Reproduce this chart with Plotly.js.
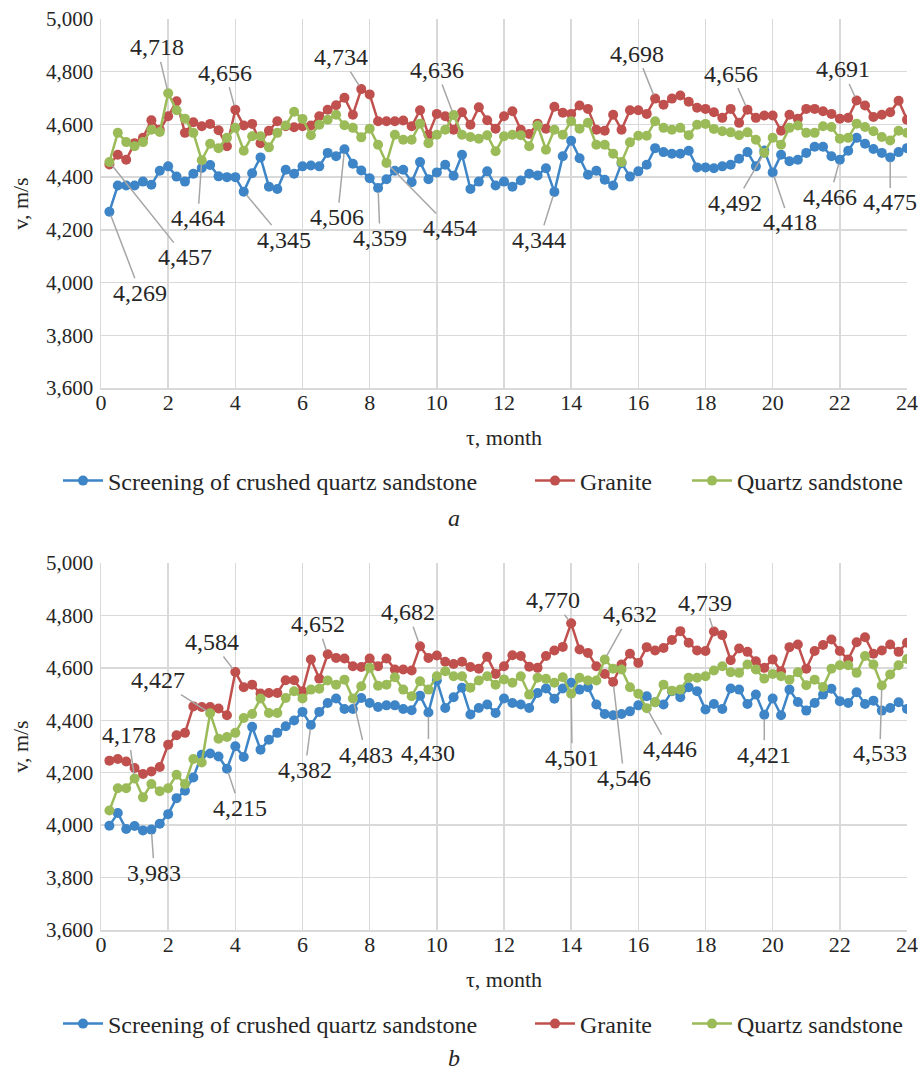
<!DOCTYPE html>
<html>
<head>
<meta charset="utf-8">
<script src="https://cdn.plot.ly/plotly-3.0.1.min.js"></script>
<style>html,body{margin:0;padding:0;background:#fff;}#chart{width:924px;height:1083px;}</style>
</head>
<body>
<div id="chart"></div>
<script>
// ---- Data (x in months) ----
const months = [0.25,0.5,0.75,1,1.25,1.5,1.75,2,2.25,2.5,2.75,3,3.25,3.5,3.75,4,4.25,4.5,4.75,5,5.25,5.5,5.75,6,
6.25,6.5,6.75,7,7.25,7.5,7.75,8,8.25,8.5,8.75,9,9.25,9.5,9.75,10,10.25,10.5,10.75,11,11.25,11.5,11.75,12,
12.25,12.5,12.75,13,13.25,13.5,13.75,14,14.25,14.5,14.75,15,15.25,15.5,15.75,16,16.25,16.5,16.75,17,17.25,17.5,17.75,18,
18.25,18.5,18.75,19,19.25,19.5,19.75,20,20.25,20.5,20.75,21,21.25,21.5,21.75,22,22.25,22.5,22.75,23,23.25,23.5,23.75,24];

const seriesNames = ["Screening of crushed quartz sandstone", "Granite", "Quartz sandstone"];

// Panel a
const aScreening = [4269,4368,4368,4368,4383,4371,4424,4441,4402,4383,4413,4435,4446,4403,4400,4400,4345,4415,4475,4364,4355,4428,4413,4441,
4444,4441,4492,4479,4506,4451,4425,4396,4359,4392,4424,4428,4381,4457,4392,4418,4447,4405,4485,4355,4383,4422,4368,4383,
4364,4387,4413,4406,4434,4344,4479,4538,4472,4409,4424,4390,4368,4453,4402,4422,4447,4510,4495,4489,4489,4500,4437,4437,
4434,4441,4447,4470,4495,4441,4501,4418,4485,4460,4466,4492,4515,4515,4479,4466,4500,4549,4527,4507,4492,4475,4495,4510];
const aGranite = [4448,4485,4466,4529,4549,4616,4580,4631,4688,4568,4608,4593,4602,4578,4517,4656,4596,4602,4529,4576,4612,4593,4589,4593,
4596,4631,4656,4673,4701,4637,4734,4714,4612,4612,4612,4615,4593,4654,4561,4640,4631,4580,4646,4599,4665,4616,4584,4631,
4650,4580,4564,4603,4584,4667,4644,4640,4672,4659,4580,4576,4637,4580,4654,4654,4640,4698,4675,4698,4710,4686,4663,4659,
4646,4625,4659,4606,4656,4625,4634,4634,4576,4637,4622,4659,4659,4650,4640,4622,4625,4691,4672,4628,4637,4646,4690,4618];
const aQuartz = [4457,4568,4533,4517,4533,4580,4571,4718,4654,4622,4568,4464,4527,4510,4549,4587,4500,4555,4555,4513,4568,4596,4648,4621,
4559,4599,4618,4637,4597,4587,4551,4584,4523,4454,4561,4542,4542,4603,4529,4561,4580,4636,4561,4552,4546,4559,4498,4555,
4561,4559,4517,4596,4504,4580,4561,4612,4584,4606,4523,4523,4489,4457,4532,4557,4557,4612,4587,4580,4587,4559,4599,4602,
4583,4574,4570,4559,4570,4542,4492,4549,4523,4587,4596,4568,4568,4593,4590,4546,4549,4603,4590,4574,4552,4539,4576,4568];

// Panel b
const bScreening = [3998,4046,3985,3997,3980,3983,4005,4042,4103,4131,4182,4269,4273,4262,4215,4301,4260,4375,4288,4326,4352,4377,4399,4432,
4382,4432,4466,4483,4443,4443,4485,4466,4451,4457,4457,4443,4438,4494,4430,4552,4447,4488,4524,4422,4447,4460,4428,4483,
4466,4460,4447,4504,4521,4482,4521,4543,4517,4526,4460,4424,4419,4424,4434,4457,4492,4469,4460,4511,4488,4526,4511,4441,
4462,4443,4521,4517,4462,4498,4421,4483,4419,4517,4470,4437,4466,4498,4520,4473,4466,4507,4462,4475,4437,4447,4469,4443];
const bGranite = [4246,4252,4243,4218,4195,4205,4222,4307,4343,4352,4453,4451,4451,4445,4419,4584,4526,4536,4502,4504,4504,4553,4553,4511,
4632,4559,4652,4638,4636,4606,4603,4636,4606,4636,4594,4594,4590,4682,4638,4647,4623,4615,4623,4603,4597,4642,4577,4606,
4648,4645,4604,4600,4645,4666,4680,4770,4670,4657,4606,4577,4546,4613,4654,4619,4679,4666,4676,4706,4740,4696,4666,4664,
4739,4725,4629,4674,4661,4625,4600,4632,4587,4679,4689,4597,4664,4687,4708,4664,4632,4698,4717,4654,4666,4689,4661,4696];
const bQuartz = [4056,4141,4141,4178,4106,4157,4129,4141,4192,4157,4252,4239,4427,4330,4336,4352,4409,4424,4483,4428,4428,4485,4511,4483,
4517,4520,4552,4536,4555,4483,4530,4600,4532,4536,4564,4517,4492,4549,4517,4568,4587,4568,4568,4524,4552,4568,4536,4556,
4543,4568,4498,4562,4558,4543,4564,4501,4562,4552,4552,4632,4597,4594,4526,4501,4446,4469,4536,4513,4517,4562,4562,4568,
4590,4606,4583,4581,4613,4594,4559,4577,4568,4555,4583,4534,4555,4527,4597,4610,4610,4581,4645,4613,4533,4575,4610,4634];

// Labelled points: [month, offsetX px, offsetY px]
const aScreeningLabels = [[0.25,31,81],[4.25,40,48],[7.25,-7,68],[8.25,2,50],[13.5,-15,48],[20,17,50],[22,-10,37],[23.5,0,45]];
const aGraniteLabels   = [[4,-10,-37],[7.75,-20,-32],[16.5,-18,-45],[19.25,-16,-36],[22.5,-14,-31]];
const aQuartzLabels    = [[0.25,76,95],[2,-11,-46],[3,-4,58],[8.5,64,65],[10.5,-17,-45],[19.75,-29,50]];
const bScreeningLabels = [[1.5,3,43],[3.75,13,39],[6.25,-6,45],[9.75,0,41],[19.75,0,40]];
const bGraniteLabels   = [[4,-23,-30],[6.75,-10,-30],[9.5,-12,-34],[14,-18,-23],[15.25,11,96],[18.25,-9,-28]];
const bQuartzLabels    = [[1,-6,-43],[3.25,-52,-33],[7.5,13,56],[14,1,64],[15,25,-45],[16.25,23,41],[23.25,-2,68]];

// ---- Styling ----
const colors = ["#3D85C6", "#C0504D", "#9BBB59"];
const FONT = "Liberation Serif";
const TXT = "#262626";

function mk(y, i, xa, ya, legendId) {
  return {
    x: months, y: y, type: "scatter", mode: "lines+markers",
    name: seriesNames[i], xaxis: xa, yaxis: ya, legend: legendId,
    line: {color: colors[i], width: 2.5},
    marker: {color: colors[i], size: 10}
  };
}

const data = [
  mk(aScreening, 0, "x", "y", "legend"),
  mk(aGranite, 1, "x", "y", "legend2"),
  mk(aQuartz, 2, "x", "y", "legend3"),
  mk(bScreening, 0, "x2", "y2", "legend4"),
  mk(bGranite, 1, "x2", "y2", "legend5"),
  mk(bQuartz, 2, "x2", "y2", "legend6")
];

const annotations = [];
function addLabels(list, series, xr, yr) {
  list.forEach(function (l) {
    const idx = months.indexOf(l[0]);
    const v = series[idx];
    annotations.push({
      x: months[idx], y: v, xref: xr, yref: yr,
      text: v.toLocaleString("en-US"),
      showarrow: true, arrowhead: 0, arrowwidth: 1.5, arrowcolor: "#A6A6A6",
      standoff: 4, ax: l[1], ay: l[2],
      font: {family: FONT, size: 24, color: TXT}
    });
  });
}
addLabels(aScreeningLabels, aScreening, "x", "y");
addLabels(aGraniteLabels, aGranite, "x", "y");
addLabels(aQuartzLabels, aQuartz, "x", "y");
addLabels(bScreeningLabels, bScreening, "x2", "y2");
addLabels(bGraniteLabels, bGranite, "x2", "y2");
addLabels(bQuartzLabels, bQuartz, "x2", "y2");

annotations.push({text: "<i>a</i>", xref: "paper", yref: "paper", x: 0.438, y: (930 - 518) / 911, showarrow: false,
  font: {family: FONT, size: 24, color: TXT}});
annotations.push({text: "<i>b</i>", xref: "paper", yref: "paper", x: 0.438, y: (930 - 1073) / 911, showarrow: false,
  font: {family: FONT, size: 24, color: TXT}});

function xAxis(anchor) {
  return {
    anchor: anchor, range: [0, 24], dtick: 2, tick0: 0,
    showgrid: true, gridcolor: "#D9D9D9", gridwidth: 1.5,
    showline: true, linecolor: "#D9D9D9", linewidth: 1.5, zeroline: false,
    ticks: "", ticklabelstandoff: -6, tickfont: {family: FONT, size: 22, color: TXT},
    title: {text: "τ, month", font: {family: FONT, size: 22, color: TXT}, standoff: 15}
  };
}
function yAxis(anchor, domain) {
  return {
    anchor: anchor, domain: domain, range: [3600, 5000], dtick: 200, tick0: 3600,
    tickformat: ",d",
    showgrid: true, gridcolor: "#D9D9D9", gridwidth: 1.5,
    showline: true, linecolor: "#D9D9D9", linewidth: 1.5, zeroline: false,
    ticks: "", ticklabelstandoff: 2, tickfont: {family: FONT, size: 21, color: TXT},
    title: {text: "v, m/s", font: {family: FONT, size: 22, color: TXT}, standoff: 11}
  };
}

function legendAt(px, py) {
  return {
    orientation: "h", xref: "paper", yref: "paper", xanchor: "left", yanchor: "middle",
    x: (px - 101) / 806, y: (930 - py) / 911,
    font: {family: FONT, size: 24, color: TXT}, bgcolor: "rgba(0,0,0,0)", itemwidth: 40
  };
}

const layout = {
  width: 924, height: 1083,
  margin: {l: 101, r: 17, t: 19, b: 153},
  paper_bgcolor: "#fff", plot_bgcolor: "#fff",
  font: {family: FONT, color: TXT},
  xaxis: Object.assign(xAxis("y"), {domain: [0, 1]}),
  yaxis: yAxis("x", [(930 - 388) / 911, 1]),
  xaxis2: Object.assign(xAxis("y2"), {domain: [0, 1]}),
  yaxis2: yAxis("x2", [0, (930 - 563) / 911]),
  legend: legendAt(58, 481),
  legend2: legendAt(530, 481),
  legend3: legendAt(687, 481),
  legend4: legendAt(58, 1024),
  legend5: legendAt(530, 1024),
  legend6: legendAt(687, 1024),
  annotations: annotations,
  showlegend: true
};

Plotly.newPlot("chart", data, layout, {displayModeBar: false, staticPlot: true});
</script>
</body>
</html>
